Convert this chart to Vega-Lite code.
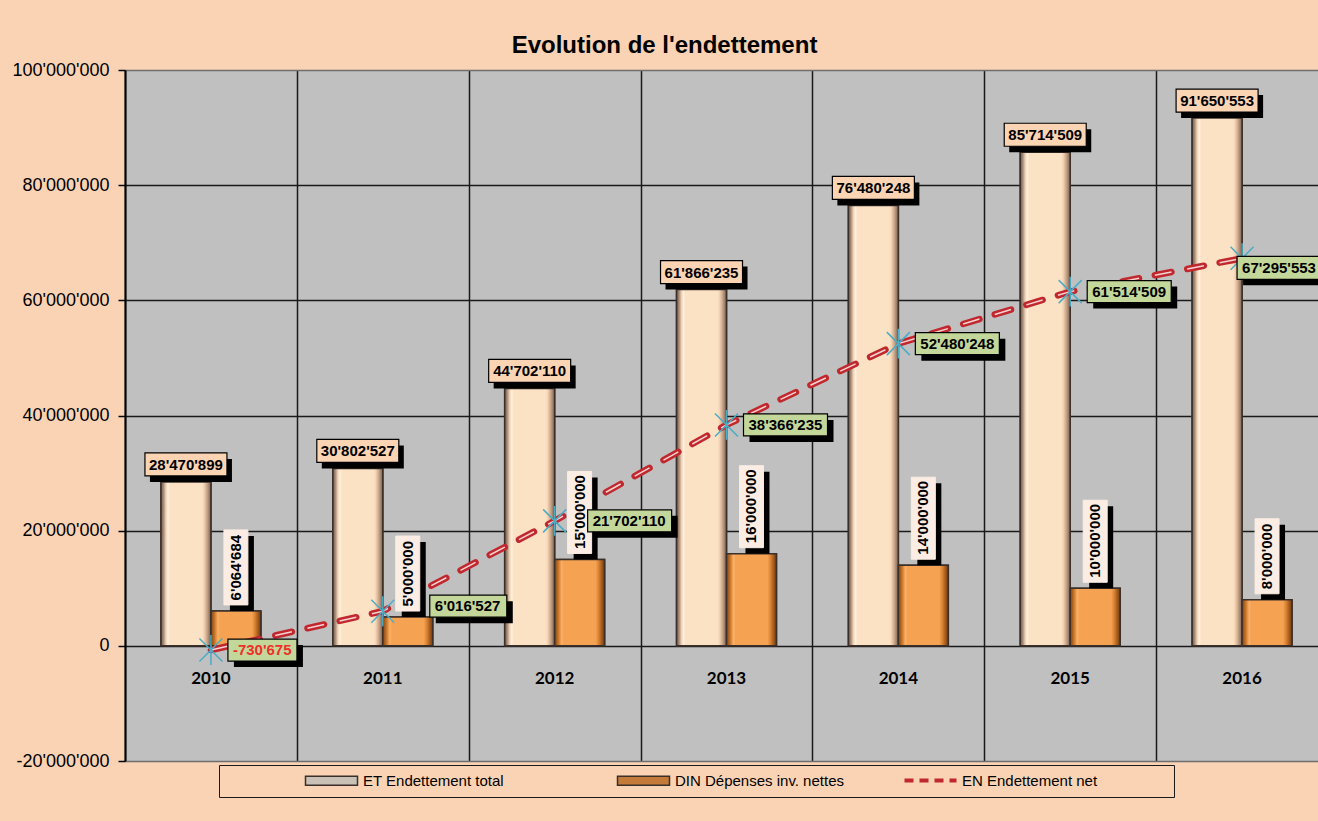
{
  "$schema": "https://vega.github.io/schema/vega-lite/v6.json",
  "autosize": {"type": "none"},
  "padding": {"left": 125, "top": 70, "right": 0, "bottom": 60},
  "width": 1193,
  "height": 691,
  "background": "#F9D3B4",
  "title": {"text": "Evolution de l'endettement", "font": "Liberation Sans", "fontSize": 24, "fontWeight": "bold", "color": "#000000", "anchor": "middle", "dx": -57, "offset": 3},
  "data": {"values": [
    {"year": "2010", "series": "ET Endettement total", "value": 28470899},
    {"year": "2011", "series": "ET Endettement total", "value": 30802527},
    {"year": "2012", "series": "ET Endettement total", "value": 44702110},
    {"year": "2013", "series": "ET Endettement total", "value": 61866235},
    {"year": "2014", "series": "ET Endettement total", "value": 76480248},
    {"year": "2015", "series": "ET Endettement total", "value": 85714509},
    {"year": "2016", "series": "ET Endettement total", "value": 91650553},
    {"year": "2010", "series": "DIN Dépenses inv. nettes", "value": 6064684},
    {"year": "2011", "series": "DIN Dépenses inv. nettes", "value": 5000000},
    {"year": "2012", "series": "DIN Dépenses inv. nettes", "value": 15000000},
    {"year": "2013", "series": "DIN Dépenses inv. nettes", "value": 16000000},
    {"year": "2014", "series": "DIN Dépenses inv. nettes", "value": 14000000},
    {"year": "2015", "series": "DIN Dépenses inv. nettes", "value": 10000000},
    {"year": "2016", "series": "DIN Dépenses inv. nettes", "value": 8000000},
    {"year": "2010", "series": "EN Endettement net", "value": -730675},
    {"year": "2011", "series": "EN Endettement net", "value": 6016527},
    {"year": "2012", "series": "EN Endettement net", "value": 21702110},
    {"year": "2013", "series": "EN Endettement net", "value": 38366235},
    {"year": "2014", "series": "EN Endettement net", "value": 52480248},
    {"year": "2015", "series": "EN Endettement net", "value": 61514509},
    {"year": "2016", "series": "EN Endettement net", "value": 67295553}
  ]},
  "encoding": {
    "x": {
      "field": "year", "type": "nominal",
      "scale": {"type": "band", "paddingInner": 0, "paddingOuter": 0, "range": [0, 1203]},
      "axis": {"title": null, "labels": false, "ticks": false, "domain": false, "grid": true, "tickBand": "extent", "gridColor": "#1a1a1a", "gridWidth": 1.5}
    },
    "y": {
      "field": "value", "type": "quantitative",
      "scale": {"domain": [-20000000, 100000000], "nice": false},
      "axis": {
        "title": null,
        "values": [-20000000, 0, 20000000, 40000000, 60000000, 80000000, 100000000],
        "format": ",d",
        "labelFont": "Liberation Sans", "labelFontSize": 18, "labelColor": "#000000", "labelPadding": 9,
        "tickSize": 7, "tickColor": "#000000", "tickWidth": 1.5,
        "domainColor": "#000000", "domainWidth": 2,
        "grid": true,
        "gridColor": {"condition": {"test": "datum.value === 100000000 || datum.value === -20000000", "value": "#6e6e6e"}, "value": "#1a1a1a"},
        "gridWidth": 1.5
      }
    }
  },
  "layer": [
    {
      "transform": [{"filter": "datum.series !== 'EN Endettement net'"}],
      "mark": {"type": "bar", "stroke": "#3b2f2a", "strokeWidth": 1.5},
      "encoding": {
        "xOffset": {"field": "series", "type": "nominal", "scale": {"domain": ["ET Endettement total", "DIN Dépenses inv. nettes"], "paddingInner": 0, "paddingOuter": 0.72}},
        "y2": {"datum": 0},
        "color": {
          "field": "series", "type": "nominal",
          "scale": {"domain": ["ET Endettement total", "DIN Dépenses inv. nettes"], "range": ["#C9C0B6", "#C47A38"]},
          "legend": {
            "orient": "none", "legendX": 199, "legendY": 703, "direction": "horizontal",
            "title": null, "padding": 0,
            "columnPadding": 110, "symbolSize": 100, "labelOffset": 24, "labelLimit": 400,
            "symbolType": "M-5.2,-0.9L5.2,-0.9L5.2,0.9L-5.2,0.9Z", "symbolStrokeColor": "#3b2f2a", "symbolStrokeWidth": 1.5, "symbolOpacity": 1,
            "labelFont": "Liberation Sans", "labelFontSize": 15, "labelColor": "#000000"
          }
        }
      }
    },
    {
      "transform": [{"filter": "datum.series === 'ET Endettement total'"}],
      "mark": {"type": "bar", "stroke": "#3b2f2a", "strokeWidth": 1.5,
        "fill": {"gradient": "linear", "x1": 0, "x2": 1, "y1": 0, "y2": 0, "stops": [
          {"offset": 0, "color": "#6e5a4e"}, {"offset": 0.05, "color": "#a88a74"}, {"offset": 0.1, "color": "#f0d2b6"},
          {"offset": 0.14, "color": "#FFF0DE"}, {"offset": 0.18, "color": "#FCE2C5"}, {"offset": 0.82, "color": "#FCE2C5"},
          {"offset": 0.86, "color": "#f3d3b3"}, {"offset": 0.92, "color": "#c9a68a"}, {"offset": 1, "color": "#7a6050"}]}},
      "encoding": {
        "xOffset": {"field": "series", "type": "nominal", "scale": {"domain": ["ET Endettement total", "DIN Dépenses inv. nettes"], "paddingInner": 0, "paddingOuter": 0.72}},
        "y2": {"datum": 0}
      }
    },
    {
      "transform": [{"filter": "datum.series === 'DIN Dépenses inv. nettes'"}],
      "mark": {"type": "bar", "stroke": "#3b2f2a", "strokeWidth": 1.5,
        "fill": {"gradient": "linear", "x1": 0, "x2": 1, "y1": 0, "y2": 0, "stops": [
          {"offset": 0, "color": "#7a4a1c"}, {"offset": 0.05, "color": "#b0641f"}, {"offset": 0.1, "color": "#e08a3a"},
          {"offset": 0.14, "color": "#f9b26a"}, {"offset": 0.18, "color": "#F6A253"}, {"offset": 0.82, "color": "#F6A253"},
          {"offset": 0.88, "color": "#d98435"}, {"offset": 0.94, "color": "#a85c1c"}, {"offset": 1, "color": "#6b3d13"}]}},
      "encoding": {
        "xOffset": {"field": "series", "type": "nominal", "scale": {"domain": ["ET Endettement total", "DIN Dépenses inv. nettes"], "paddingInner": 0, "paddingOuter": 0.72}},
        "y2": {"datum": 0}
      }
    },
    {
      "transform": [{"filter": "datum.series === 'EN Endettement net'"}],
      "mark": {"type": "line", "strokeWidth": 6.5, "strokeDash": [17, 16], "strokeCap": "round"},
      "encoding": {
        "stroke": {
          "field": "series", "type": "nominal",
          "scale": {"domain": ["EN Endettement net"], "range": ["#C0282E"]},
          "legend": {
            "orient": "none", "legendX": 94, "legendY": 695, "direction": "horizontal",
            "title": "\u00a0", "titleOrient": "left", "titlePadding": 696, "titleFontSize": 15,
            "padding": 8, "fillColor": null, "strokeColor": "#1a1a1a",
            "symbolType": "M-5.2,0L5.2,0", "symbolSize": 100, "symbolStrokeWidth": 4, "symbolDash": [9, 6], "symbolOpacity": 1,
            "labelOffset": 24, "labelLimit": 400,
            "labelFont": "Liberation Sans", "labelFontSize": 15, "labelColor": "#000000",
            "labelExpr": "datum.label + '\u2003\u2003\u2003\u2003\u00a0\u00a0\u200b'"
          }
        }
      }
    },
    {
      "transform": [{"filter": "datum.series === 'EN Endettement net'"}],
      "mark": {"type": "line", "strokeWidth": 1.5, "strokeDash": [17, 16], "strokeCap": "butt", "color": "#F6D2D2"},
      "encoding": {}
    },
    {
      "transform": [{"filter": "datum.series === 'EN Endettement net'"}],
      "mark": {"type": "point", "shape": "M-1,-1L1,1M-1,1L1,-1M0,-1.3L0,1.3", "size": 529, "filled": false, "stroke": "#4AACC5", "strokeWidth": 1.5, "opacity": 1},
      "encoding": {}
    },
    {
      "transform": [{"filter": "datum.series === 'ET Endettement total'"}],
      "mark": {"type": "point", "shape": "M-0.72,-0.46L0.92,-0.46L0.92,0L-0.72,0Z", "size": 10000, "filled": true, "fill": "#000000", "strokeWidth": 0, "opacity": 1},
      "encoding": {
        "xOffset": {"field": "series", "type": "nominal", "scale": {"domain": ["ET Endettement total", "DIN Dépenses inv. nettes"], "paddingInner": 0, "paddingOuter": 0.72}}
      }
    },
    {
      "transform": [{"filter": "datum.series === 'ET Endettement total'"}],
      "mark": {"type": "point", "shape": "M-0.82,-0.58L0.82,-0.58L0.82,-0.12L-0.82,-0.12Z", "size": 10000, "filled": true, "fill": "#FBD4B4", "stroke": "#000000", "strokeWidth": 1.2, "opacity": 1},
      "encoding": {
        "xOffset": {"field": "series", "type": "nominal", "scale": {"domain": ["ET Endettement total", "DIN Dépenses inv. nettes"], "paddingInner": 0, "paddingOuter": 0.72}}
      }
    },
    {
      "transform": [{"filter": "datum.series === 'ET Endettement total'"}],
      "mark": {"type": "text", "font": "Liberation Sans", "fontSize": 15, "fontWeight": "bold", "color": "#000000", "align": "center", "baseline": "middle", "dy": -17},
      "encoding": {
        "xOffset": {"field": "series", "type": "nominal", "scale": {"domain": ["ET Endettement total", "DIN Dépenses inv. nettes"], "paddingInner": 0, "paddingOuter": 0.72}},
        "text": {"field": "value", "type": "quantitative", "format": ",d"}
      }
    },
    {
      "transform": [{"filter": "datum.series === 'DIN Dépenses inv. nettes'"}],
      "mark": {"type": "point", "size": 10000, "filled": true, "fill": "#000000", "strokeWidth": 0, "opacity": 1},
      "encoding": {
        "xOffset": {"field": "series", "type": "nominal", "scale": {"domain": ["ET Endettement total", "DIN Dépenses inv. nettes"], "paddingInner": 0, "paddingOuter": 0.72}},
        "shape": {"field": "year", "type": "nominal", "legend": null, "scale": {"domain": ["2010", "2011", "2012", "2013", "2014", "2015", "2016"], "range": [
          "M-0.12,-1.5L0.36,-1.5L0.36,0L-0.12,0Z", "M-0.12,-1.5L0.36,-1.5L0.36,0L-0.12,0Z",
          "M-0.12,-1.64L0.36,-1.64L0.36,0L-0.12,0Z", "M-0.12,-1.64L0.36,-1.64L0.36,0L-0.12,0Z", "M-0.12,-1.64L0.36,-1.64L0.36,0L-0.12,0Z",
          "M-0.12,-1.64L0.36,-1.64L0.36,0L-0.12,0Z", "M-0.12,-1.5L0.36,-1.5L0.36,0L-0.12,0Z"]}}
      }
    },
    {
      "transform": [{"filter": "datum.series === 'DIN Dépenses inv. nettes'"}],
      "mark": {"type": "point", "size": 10000, "filled": true, "fill": "#FBEDE3", "stroke": "#FBEDE3", "strokeWidth": 1, "opacity": 1},
      "encoding": {
        "xOffset": {"field": "series", "type": "nominal", "scale": {"domain": ["ET Endettement total", "DIN Dépenses inv. nettes"], "paddingInner": 0, "paddingOuter": 0.72}},
        "shape": {"field": "year", "type": "nominal", "legend": null, "scale": {"domain": ["2010", "2011", "2012", "2013", "2014", "2015", "2016"], "range": [
          "M-0.24,-1.62L0.24,-1.62L0.24,-0.12L-0.24,-0.12Z", "M-0.24,-1.62L0.24,-1.62L0.24,-0.12L-0.24,-0.12Z",
          "M-0.24,-1.76L0.24,-1.76L0.24,-0.12L-0.24,-0.12Z", "M-0.24,-1.76L0.24,-1.76L0.24,-0.12L-0.24,-0.12Z", "M-0.24,-1.76L0.24,-1.76L0.24,-0.12L-0.24,-0.12Z",
          "M-0.24,-1.76L0.24,-1.76L0.24,-0.12L-0.24,-0.12Z", "M-0.24,-1.62L0.24,-1.62L0.24,-0.12L-0.24,-0.12Z"]}}
      }
    },
    {
      "transform": [{"filter": "datum.series === 'DIN Dépenses inv. nettes'"}],
      "mark": {"type": "text", "font": "Liberation Sans", "fontSize": 15, "fontWeight": "bold", "color": "#000000", "align": "left", "baseline": "middle", "angle": 270, "dx": 10.5},
      "encoding": {
        "xOffset": {"field": "series", "type": "nominal", "scale": {"domain": ["ET Endettement total", "DIN Dépenses inv. nettes"], "paddingInner": 0, "paddingOuter": 0.72}},
        "text": {"field": "value", "type": "quantitative", "format": ",d"}
      }
    },
    {
      "transform": [{"filter": "datum.series === 'EN Endettement net'"}],
      "mark": {"type": "point", "size": 10000, "filled": true, "fill": "#000000", "strokeWidth": 0, "opacity": 1},
      "encoding": {
        "shape": {"field": "year", "type": "nominal", "legend": null, "scale": {"domain": ["2010", "2011", "2012", "2013", "2014", "2015", "2016"], "range": [
          "M0.46,-0.1L1.84,-0.1L1.84,0.34L0.46,0.34Z",
          "M1.06,-0.2L2.6,-0.2L2.6,0.24L1.06,0.24Z",
          "M0.78,-0.1L2.46,-0.1L2.46,0.34L0.78,0.34Z",
          "M0.46,-0.1L2.14,-0.1L2.14,0.34L0.46,0.34Z", "M0.46,-0.1L2.14,-0.1L2.14,0.34L0.46,0.34Z",
          "M0.46,-0.1L2.14,-0.1L2.14,0.34L0.46,0.34Z", "M0.02,0.08L1.7,0.08L1.7,0.54L0.02,0.54Z"]}}
      }
    },
    {
      "transform": [{"filter": "datum.series === 'EN Endettement net'"}],
      "mark": {"type": "point", "size": 10000, "filled": true, "fill": "#C4D79B", "stroke": "#000000", "strokeWidth": 1.2, "opacity": 1},
      "encoding": {
        "shape": {"field": "year", "type": "nominal", "legend": null, "scale": {"domain": ["2010", "2011", "2012", "2013", "2014", "2015", "2016"], "range": [
          "M0.34,-0.22L1.72,-0.22L1.72,0.22L0.34,0.22Z",
          "M0.94,-0.32L2.48,-0.32L2.48,0.12L0.94,0.12Z",
          "M0.66,-0.22L2.34,-0.22L2.34,0.22L0.66,0.22Z",
          "M0.34,-0.22L2.02,-0.22L2.02,0.22L0.34,0.22Z", "M0.34,-0.22L2.02,-0.22L2.02,0.22L0.34,0.22Z",
          "M0.34,-0.22L2.02,-0.22L2.02,0.22L0.34,0.22Z", "M-0.1,-0.04L1.58,-0.04L1.58,0.42L-0.1,0.42Z"]}}
      }
    },
    {
      "transform": [{"filter": "datum.series === 'EN Endettement net' && (datum.year === '2010' || datum.year === '2013' || datum.year === '2014' || datum.year === '2015')"}],
      "mark": {"type": "text", "font": "Liberation Sans", "fontSize": 15, "fontWeight": "bold", "align": "left", "baseline": "middle", "dx": 22},
      "encoding": {
        "text": {"field": "value", "type": "quantitative", "format": ",d"},
        "color": {"condition": {"test": "datum.value < 0", "value": "#EE3029"}, "value": "#000000"}
      }
    },
    {
      "transform": [{"filter": "datum.series === 'EN Endettement net' && datum.year === '2011'"}],
      "mark": {"type": "text", "font": "Liberation Sans", "fontSize": 15, "fontWeight": "bold", "align": "left", "baseline": "middle", "dx": 52, "dy": -5, "color": "#000000"},
      "encoding": {
        "text": {"field": "value", "type": "quantitative", "format": ",d"}
      }
    },
    {
      "transform": [{"filter": "datum.series === 'EN Endettement net' && datum.year === '2012'"}],
      "mark": {"type": "text", "font": "Liberation Sans", "fontSize": 15, "fontWeight": "bold", "align": "left", "baseline": "middle", "dx": 38, "color": "#000000"},
      "encoding": {
        "text": {"field": "value", "type": "quantitative", "format": ",d"}
      }
    },
    {
      "transform": [{"filter": "datum.series === 'EN Endettement net' && datum.year === '2016'"}],
      "mark": {"type": "text", "font": "Liberation Sans", "fontSize": 15, "fontWeight": "bold", "align": "left", "baseline": "middle", "dx": 0, "dy": 10, "color": "#000000"},
      "encoding": {
        "text": {"field": "value", "type": "quantitative", "format": ",d"}
      }
    },
    {
      "transform": [{"filter": "datum.series === 'ET Endettement total'"}],
      "mark": {"type": "text", "font": "Lato", "fontSize": 17, "fontWeight": "bold", "color": "#000000", "align": "center", "baseline": "middle", "dy": 33},
      "encoding": {
        "y": {"datum": 0},
        "text": {"field": "year", "type": "nominal"}
      }
    }
  ],
  "resolve": {"scale": {"shape": "independent"}},
  "config": {
    "locale": {"number": {"decimal": ".", "thousands": "'", "grouping": [3], "currency": ["", ""], "minus": "-"}},
    "view": {"stroke": null, "fill": "#C0C0C0"},
    "font": "Liberation Sans"
  }
}
